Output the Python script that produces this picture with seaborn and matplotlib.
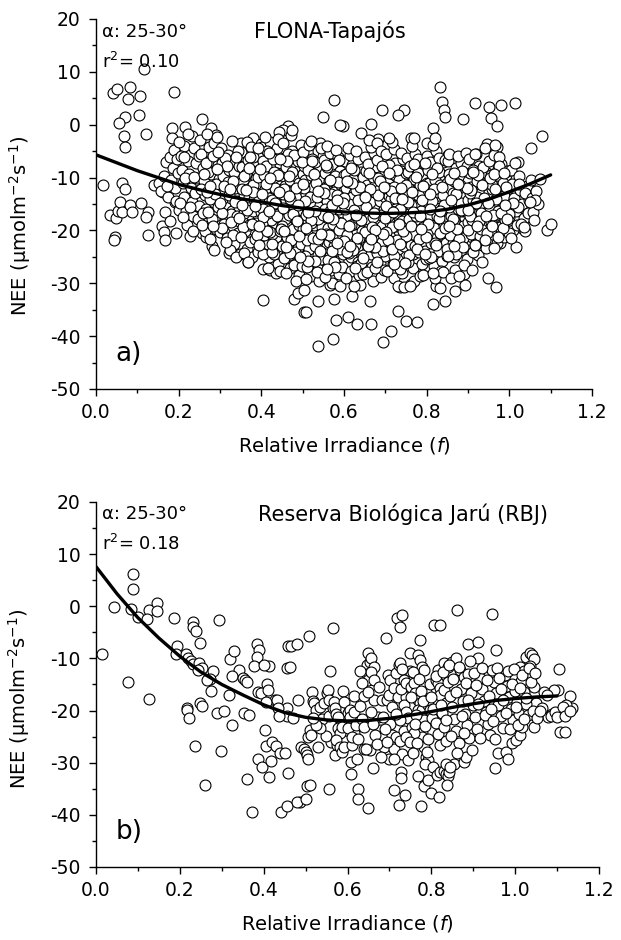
import numpy as np
import pandas as pd
import matplotlib
matplotlib.use("Agg")
import matplotlib.pyplot as plt
import seaborn as sns
from matplotlib.ticker import MultipleLocator

# ──────────────────────────────────────────────
# Data
# ──────────────────────────────────────────────
# Panel a) FLONA-Tapajós : scattered points away from the main cloud
a_edge = [
    (0.04, 6.0), (0.05, 6.7), (0.083, 7.1), (0.077, 4.9), (0.106, 5.5), (0.116, 10.6),
    (0.189, 6.1), (0.07, 1.4), (0.056, 0.4), (0.104, 1.9), (0.068, -2.1), (0.069, -4.2),
    (0.122, -1.7), (0.017, -11.4), (0.062, -11), (0.07, -12.2), (0.035, -17.1), (0.048, -17.7),
    (0.054, -16.4), (0.058, -14.6), (0.063, -16.6), (0.047, -21.2), (0.044, -21.8), (0.083, -15.1),
    (0.087, -16.5), (0.11, -14.8), (0.126, -16.6), (0.122, -17.5), (0.127, -20.8), (0.141, -11.4),
    (0.163, -12.8), (0.159, -19.1), (0.165, -20.3), (0.166, -21.8), (0.167, -16.5), (0.178, -18.2),
    (0.193, -20.5), (0.19, -14.6), (0.228, -21), (0.184, -0.7), (0.185, -2.5), (0.215, -0.4),
    (0.212, -4), (0.232, -2.2), (0.257, 1.1), (0.279, -0.7), (0.29, -1.9),
    (0.257, -20.5), (0.266, -21.3), (0.28, -23), (0.286, -23.7), (0.298, -18), (0.3, -20.2),
    (0.322, -24.3), (0.338, -24.9), (0.363, -24.3), (0.368, -25.9),
    (0.405, -33.1), (0.405, -27.3), (0.479, -32.9), (0.489, -31.9), (0.503, -31.2), (0.503, -35.5),
    (0.508, -35.4), (0.537, -33.4), (0.537, -41.8), (0.574, -40.6), (0.58, -36.9), (0.575, -32.9),
    (0.566, -30.3), (0.61, -36.3), (0.619, -32.4), (0.632, -37.8), (0.663, -33.4), (0.666, -37.8),
    (0.694, -41.2), (0.714, -39.1), (0.731, -35.3), (0.75, -37.2), (0.777, -37.3), (0.736, -30.7),
    (0.761, -30.2), (0.815, -33.9), (0.845, -33.4), (0.822, -30.5), (0.832, -30.9), (0.869, -31.5),
    (0.89, -28.2), (0.892, -30.4), (0.948, -29), (0.968, -30.8), (0.977, -22.4), (1.017, -23.2),
    (1.03, -19.6), (1.09, -19.9), (1.101, -18.8), (1.052, -4.4), (1.078, -2.2), (1.013, 4.1),
    (0.98, 3.8), (0.951, 3.3), (0.956, 1.3), (0.971, -0.3), (0.916, 4.1), (0.889, 1.1),
    (0.832, 7.2), (0.837, 4.2), (0.842, 2.8), (0.845, 1.5), (0.815, -0.7), (0.745, 2.8),
    (0.731, 1.9), (0.691, 2.8), (0.665, 0.1), (0.642, -1.6), (0.598, -0.2), (0.59, 0),
    (0.577, 4.7), (0.548, 1.5), (0.763, -2.6), (0.8, -3.4), (0.682, -2.8), (0.668, -4.1),
    (0.542, -3.5), (0.537, -5), (0.465, -0.2), (0.453, -1), (0.852, -5.7), (0.92, -5.5),
    (0.946, -3.6), (0.97, -4.2), (1.02, -7), (1.046, -15.8), (1.054, -17.2), (1.06, -12.5),
    (1.01, -20),
]

# Panel a) main cloud, 0.15 <= f < 0.50
a_core_left = [
    (0.152, -11), (0.158, -12.5), (0.165, -9.8), (0.17, -7), (0.175, -13.6), (0.178, -6.2),
    (0.182, -10.5), (0.186, -8.2), (0.19, -12), (0.194, -14.4), (0.198, -9.2), (0.188, -4.8),
    (0.196, -6.5), (0.172, -11.6), (0.2, -16.1),
    (0.202, -3.2), (0.205, -5.9), (0.208, -8.5), (0.211, -11.1), (0.214, -13.7), (0.217, -16.3),
    (0.22, -18.9), (0.223, -6.8), (0.226, -9.4), (0.229, -12), (0.232, -14.6), (0.235, -17.2),
    (0.238, -4.5), (0.241, -7.3), (0.244, -10), (0.247, -12.6), (0.25, -15.3), (0.204, -14.8),
    (0.21, -17.5), (0.216, -10.1), (0.222, -1.8), (0.228, -15.5), (0.234, -20.1), (0.24, -12.9),
    (0.246, -17.8), (0.213, -6.1), (0.237, -9.9), (0.249, -6),
    (0.252, -2.9), (0.255, -5.5), (0.258, -8.1), (0.261, -10.7), (0.264, -13.3), (0.267, -15.9),
    (0.27, -18.5), (0.273, -4.2), (0.276, -6.8), (0.279, -9.4), (0.282, -12), (0.285, -14.6),
    (0.288, -17.2), (0.291, -19.8), (0.294, -7.6), (0.297, -10.2), (0.3, -12.8), (0.254, -12.2),
    (0.259, -16.7), (0.263, -20.1), (0.268, -1.8), (0.272, -9), (0.277, -14.1), (0.281, -17.8),
    (0.286, -3.5), (0.29, -11.3), (0.295, -15.5), (0.299, -20.3), (0.256, -18.9), (0.266, -7.2),
    (0.275, -21.6), (0.284, -6), (0.293, -2.4),
    (0.302, -4.5), (0.305, -7.2), (0.308, -9.8), (0.31, -12.4), (0.312, -15.1), (0.315, -17.6),
    (0.318, -20.3), (0.32, -5.8), (0.322, -8.6), (0.325, -11.3), (0.327, -13.9), (0.33, -16.4),
    (0.332, -19.1), (0.335, -22.6), (0.337, -6.9), (0.34, -10.2), (0.342, -12.9), (0.345, -15.6),
    (0.347, -18.2), (0.35, -3.4), (0.304, -14), (0.309, -18.8), (0.316, -21.5), (0.323, -23.8),
    (0.329, -3), (0.334, -9), (0.339, -14.5), (0.344, -20.5), (0.348, -24.5), (0.313, -6.3),
    (0.319, -10.9), (0.326, -16.9), (0.331, -20.8), (0.336, -12), (0.341, -17.3), (0.346, -7.8),
    (0.306, -19.6), (0.321, -13.3), (0.338, -25), (0.349, -11.5),
    (0.352, -5.1), (0.354, -8), (0.356, -10.7), (0.358, -13.2), (0.36, -15.8), (0.362, -18.4),
    (0.364, -21), (0.366, -23.6), (0.368, -6.6), (0.37, -9.3), (0.372, -11.9), (0.374, -14.5),
    (0.376, -17.1), (0.378, -19.7), (0.38, -2.6), (0.382, -4.7), (0.384, -7.4), (0.386, -10),
    (0.388, -12.6), (0.39, -15.2), (0.392, -17.8), (0.394, -20.4), (0.396, -22.8), (0.398, -3.6),
    (0.353, -12.2), (0.357, -16.7), (0.361, -20.1), (0.365, -3.3), (0.369, -13.6), (0.373, -22.2),
    (0.377, -25.1), (0.381, -16.3), (0.385, -21.6), (0.389, -8.8), (0.393, -5.9), (0.397, -11.1),
    (0.359, -24.2), (0.363, -9.4), (0.367, -26), (0.371, -18.9), (0.375, -4.2), (0.379, -11.4),
    (0.383, -14), (0.387, -18.6), (0.391, -24), (0.395, -13.7), (0.399, -16.6), (0.355, -19.4),
    (0.379, -6.2), (0.391, -9.9),
    (0.402, -4.2), (0.404, -6.9), (0.406, -9.5), (0.408, -12.1), (0.41, -14.7), (0.412, -17.3),
    (0.414, -19.9), (0.416, -22.5), (0.418, -25), (0.42, -27.4), (0.422, -3.2), (0.424, -5.6),
    (0.426, -8.2), (0.428, -10.8), (0.43, -13.4), (0.432, -16), (0.434, -18.6), (0.436, -21.2),
    (0.438, -23.8), (0.44, -26.3), (0.442, -1.3), (0.444, -7.5), (0.446, -11.6), (0.448, -15.3),
    (0.45, -19.1), (0.403, -15.9), (0.407, -20.8), (0.411, -7.9), (0.415, -11), (0.419, -13.9),
    (0.423, -18.1), (0.427, -20.6), (0.431, -24.5), (0.435, -28), (0.439, -9.1), (0.443, -13.1),
    (0.447, -17.6), (0.449, -22.9), (0.405, -24.4), (0.409, -2.3), (0.413, -5), (0.417, -16.8),
    (0.421, -20.3), (0.425, -14.2), (0.429, -6.5), (0.433, -11.9), (0.437, -4.4), (0.441, -16.9),
    (0.445, -20.2), (0.401, -18.8), (0.415, -27.2), (0.43, -8.9), (0.445, -27.6), (0.425, -24),
    (0.44, -2.7),
    (0.452, -3.5), (0.454, -6.3), (0.456, -9), (0.458, -11.6), (0.46, -14.2), (0.462, -16.8),
    (0.464, -19.4), (0.466, -22), (0.468, -24.6), (0.47, -27.1), (0.472, -2), (0.474, -4.9),
    (0.476, -7.7), (0.478, -10.3), (0.48, -12.9), (0.482, -15.5), (0.484, -18.1), (0.486, -20.7),
    (0.488, -23.3), (0.49, -25.9), (0.492, -28.4), (0.494, -8.4), (0.496, -12.2), (0.498, -16.2),
    (0.5, -20), (0.453, -13.2), (0.457, -17.8), (0.461, -21.3), (0.465, -5.5), (0.469, -10.5),
    (0.473, -15), (0.477, -19.8), (0.481, -24), (0.485, -29.5), (0.489, -6.8), (0.493, -14.4),
    (0.497, -22.5), (0.455, -25.3), (0.459, -8), (0.463, -12.5), (0.467, -17), (0.471, -21.8),
    (0.475, -1), (0.479, -26.5), (0.483, -9.7), (0.487, -13.8), (0.491, -18.9), (0.495, -3.8),
    (0.499, -26.8), (0.451, -19.2), (0.46, -28), (0.48, -5.7), (0.49, -11), (0.47, -14),
    (0.5, -9.4),
]

# Panel a) main cloud, 0.50 <= f < 0.80
a_core_mid = [
    (0.502, -5.2), (0.504, -7.9), (0.506, -10.5), (0.508, -13.1), (0.51, -15.7), (0.512, -18.3),
    (0.514, -20.9), (0.516, -23.5), (0.518, -26.1), (0.52, -28.7), (0.522, -6.4), (0.524, -9.1),
    (0.526, -11.7), (0.528, -14.3), (0.53, -16.9), (0.532, -19.5), (0.534, -22.1), (0.536, -24.7),
    (0.538, -27.3), (0.54, -29.6), (0.542, -8.3), (0.544, -12.8), (0.546, -16.1), (0.548, -20.2),
    (0.55, -24.2), (0.503, -12), (0.507, -17), (0.511, -21.9), (0.515, -3.9), (0.519, -9.6),
    (0.523, -14.9), (0.527, -19), (0.531, -23), (0.535, -27.8), (0.539, -10.6), (0.543, -15.2),
    (0.547, -19.3), (0.549, -6), (0.505, -24.8), (0.509, -29.1), (0.513, -8.5), (0.517, -13.6),
    (0.521, -18.6), (0.525, -21.5), (0.529, -7), (0.533, -11.1), (0.537, -17.8), (0.541, -21.3),
    (0.545, -25.5), (0.501, -19.7), (0.52, -3), (0.545, -4.5), (0.51, -27), (0.53, -25.8),
    (0.55, -13.6),
    (0.552, -6.6), (0.554, -9.2), (0.556, -11.8), (0.558, -14.4), (0.56, -17), (0.562, -19.6),
    (0.564, -22.2), (0.566, -24.8), (0.568, -27.4), (0.57, -30), (0.572, -7.5), (0.574, -10.1),
    (0.576, -12.7), (0.578, -15.3), (0.58, -17.9), (0.582, -20.5), (0.584, -23.1), (0.586, -25.7),
    (0.588, -28.2), (0.59, -8.8), (0.592, -11.4), (0.594, -14), (0.596, -16.6), (0.598, -19.2),
    (0.6, -21.8), (0.553, -15.9), (0.557, -20.7), (0.561, -25.6), (0.565, -5.3), (0.569, -13.2),
    (0.573, -18.7), (0.577, -22.9), (0.581, -26.6), (0.585, -6.2), (0.589, -16), (0.593, -21),
    (0.597, -24.5), (0.599, -12.5), (0.555, -28.8), (0.559, -4), (0.563, -10.6), (0.567, -16.4),
    (0.571, -21.3), (0.575, -26), (0.579, -9.7), (0.583, -13.3), (0.587, -19.9), (0.591, -23.6),
    (0.595, -27), (0.551, -12.1), (0.58, -4.8), (0.6, -9.6), (0.56, -8), (0.59, -30.5),
    (0.57, -23.9),
    (0.602, -6.8), (0.604, -9.4), (0.606, -12), (0.608, -14.6), (0.61, -17.2), (0.612, -19.8),
    (0.614, -22.4), (0.616, -25), (0.618, -27.6), (0.62, -7.7), (0.622, -10.3), (0.624, -12.9),
    (0.626, -15.5), (0.628, -18.1), (0.63, -20.7), (0.632, -23.3), (0.634, -25.9), (0.636, -28.5),
    (0.638, -30.3), (0.64, -8.9), (0.642, -11.5), (0.644, -14.1), (0.646, -16.7), (0.648, -19.3),
    (0.65, -21.9), (0.603, -16), (0.607, -20.9), (0.611, -24.3), (0.615, -5.7), (0.619, -13.6),
    (0.623, -18.8), (0.627, -22.7), (0.631, -26.8), (0.635, -6.5), (0.639, -16.2), (0.643, -20.1),
    (0.647, -24.6), (0.649, -13), (0.605, -29), (0.609, -10.8), (0.613, -15), (0.617, -19),
    (0.621, -23.8), (0.625, -8.5), (0.629, -12.4), (0.633, -17.6), (0.637, -21.4), (0.641, -26.2),
    (0.645, -9.9), (0.601, -22), (0.625, -30.5), (0.61, -4.5), (0.645, -28.3), (0.63, -5),
    (0.65, -17.5),
    (0.652, -6.2), (0.654, -8.8), (0.656, -11.4), (0.658, -14), (0.66, -16.6), (0.662, -19.2),
    (0.664, -21.8), (0.666, -24.4), (0.668, -27), (0.67, -29.5), (0.672, -5.4), (0.674, -8),
    (0.676, -10.6), (0.678, -13.2), (0.68, -15.8), (0.682, -18.4), (0.684, -21), (0.686, -23.6),
    (0.688, -26.2), (0.69, -28.8), (0.692, -7.2), (0.694, -11.8), (0.696, -16), (0.698, -20.4),
    (0.7, -24.9), (0.653, -12.6), (0.657, -17.8), (0.661, -22.5), (0.665, -4.3), (0.669, -9.9),
    (0.673, -15.1), (0.677, -20), (0.681, -24.2), (0.685, -12.3), (0.689, -17), (0.693, -22.2),
    (0.697, -27.5), (0.699, -9.1), (0.655, -27.8), (0.659, -7.4), (0.663, -14.7), (0.667, -19.6),
    (0.671, -23.1), (0.675, -27.2), (0.679, -6.6), (0.683, -10.1), (0.687, -14.4), (0.691, -19.1),
    (0.695, -23.9), (0.651, -20.3), (0.66, -2.9), (0.68, -3.5), (0.7, -13.7), (0.67, -17.4),
    (0.69, -5),
    (0.702, -5.6), (0.704, -8.2), (0.706, -10.8), (0.708, -13.4), (0.71, -16), (0.712, -18.6),
    (0.714, -21.2), (0.716, -23.8), (0.718, -26.4), (0.72, -29), (0.722, -4.6), (0.724, -7.2),
    (0.726, -9.8), (0.728, -12.4), (0.73, -15), (0.732, -17.6), (0.734, -20.2), (0.736, -22.8),
    (0.738, -25.4), (0.74, -28), (0.742, -6.4), (0.744, -11), (0.746, -15.4), (0.748, -19.8),
    (0.75, -24.3), (0.703, -12), (0.707, -17.2), (0.711, -22), (0.715, -3.2), (0.719, -9.3),
    (0.723, -14.4), (0.727, -19.1), (0.731, -23.5), (0.735, -27.3), (0.739, -8.7), (0.743, -13.6),
    (0.747, -17.9), (0.749, -21.7), (0.705, -27.6), (0.709, -7.6), (0.713, -14.1), (0.717, -19.4),
    (0.721, -24.9), (0.725, -16.8), (0.729, -21.8), (0.733, -10.5), (0.737, -5.3), (0.741, -18.2),
    (0.745, -23), (0.701, -20.3), (0.73, -30.5), (0.745, -30.8), (0.71, -2.5), (0.75, -9.2),
    (0.72, -11.7),
    (0.752, -6.3), (0.754, -8.9), (0.756, -11.5), (0.758, -14.1), (0.76, -16.7), (0.762, -19.3),
    (0.764, -21.9), (0.766, -24.5), (0.768, -27.1), (0.77, -29.6), (0.772, -5.5), (0.774, -8.1),
    (0.776, -10.7), (0.778, -13.3), (0.78, -15.9), (0.782, -18.5), (0.784, -21.1), (0.786, -23.7),
    (0.788, -26.3), (0.79, -7), (0.792, -9.6), (0.794, -12.2), (0.796, -14.8), (0.798, -17.4),
    (0.8, -20), (0.753, -13), (0.757, -17.9), (0.761, -22.7), (0.765, -4.1), (0.769, -10.2),
    (0.773, -15.3), (0.777, -19.9), (0.781, -24.1), (0.785, -28.6), (0.789, -12.9), (0.793, -16.6),
    (0.797, -22.6), (0.799, -25.4), (0.755, -26), (0.759, -7.8), (0.763, -15.1), (0.767, -20.6),
    (0.771, -23), (0.775, -17.2), (0.779, -6.5), (0.783, -11.4), (0.787, -16.3), (0.791, -19.4),
    (0.795, -23.9), (0.751, -21), (0.77, -2.5), (0.79, -28.4), (0.76, -30.5), (0.78, -9.2),
    (0.8, -11),
]

# Panel a) main cloud, f >= 0.80
a_core_right = [
    (0.802, -5.9), (0.804, -8.5), (0.806, -11.1), (0.808, -13.7), (0.81, -16.3), (0.812, -18.9),
    (0.814, -21.5), (0.816, -24.1), (0.818, -26.7), (0.82, -29), (0.822, -5), (0.824, -7.6),
    (0.826, -10.2), (0.828, -12.8), (0.83, -15.4), (0.832, -18), (0.834, -20.6), (0.836, -23.2),
    (0.838, -25.8), (0.84, -7.1), (0.842, -9.7), (0.844, -12.3), (0.846, -14.9), (0.848, -17.5),
    (0.85, -20.1), (0.803, -12.4), (0.807, -17.1), (0.811, -22.3), (0.815, -3.8), (0.819, -10.4),
    (0.823, -15.8), (0.827, -19.8), (0.831, -23.9), (0.835, -27.7), (0.839, -13.3), (0.843, -16.2),
    (0.847, -22.3), (0.849, -24.8), (0.805, -25.3), (0.809, -7), (0.813, -14.5), (0.817, -19.6),
    (0.821, -22.4), (0.825, -17.2), (0.829, -6.3), (0.833, -11.4), (0.837, -16), (0.841, -19.2),
    (0.845, -6.6), (0.801, -20.7), (0.82, -2.5), (0.84, -27.8), (0.83, -9), (0.85, -11),
    (0.815, -28),
    (0.852, -6.8), (0.854, -9.4), (0.856, -12), (0.858, -14.6), (0.86, -17.2), (0.862, -19.8),
    (0.864, -22.4), (0.866, -25), (0.868, -27.5), (0.87, -8.2), (0.872, -10.8), (0.874, -13.4),
    (0.876, -16), (0.878, -18.6), (0.88, -21.2), (0.882, -23.8), (0.884, -7.3), (0.886, -9.9),
    (0.888, -12.5), (0.89, -15.1), (0.892, -17.7), (0.894, -20.3), (0.896, -22.9), (0.898, -25.4),
    (0.9, -10.6), (0.853, -15.6), (0.857, -20.9), (0.861, -24.3), (0.865, -10.7), (0.869, -14.4),
    (0.873, -19), (0.877, -22.2), (0.881, -11.5), (0.885, -16.4), (0.889, -19.2), (0.893, -13.6),
    (0.897, -7.9), (0.899, -18.4), (0.855, -5.5), (0.859, -29), (0.863, -13), (0.867, -18.3),
    (0.871, -24.5), (0.875, -6), (0.879, -28.6), (0.883, -14.8), (0.887, -21.5), (0.891, -26.5),
    (0.895, -5.3), (0.9, -14.2),
    (0.902, -6.5), (0.905, -9.1), (0.908, -11.7), (0.911, -14.3), (0.914, -16.9), (0.917, -19.5),
    (0.92, -22.1), (0.923, -24.6), (0.926, -7.8), (0.929, -10.4), (0.932, -13), (0.935, -15.6),
    (0.938, -18.2), (0.941, -20.8), (0.944, -23.3), (0.947, -9.2), (0.95, -12.8), (0.903, -16.2),
    (0.907, -20.6), (0.912, -24), (0.916, -5.5), (0.921, -13.7), (0.925, -17.6), (0.93, -21),
    (0.934, -26), (0.939, -11.2), (0.943, -15.9), (0.948, -18.8), (0.904, -12.9), (0.909, -18),
    (0.913, -8.6), (0.918, -22.8), (0.922, -10.7), (0.927, -15.2), (0.931, -19.7), (0.936, -8),
    (0.942, -4.5), (0.946, -16.5), (0.949, -21.6), (0.91, -27.5),
    (0.952, -6.9), (0.955, -9.5), (0.958, -12.1), (0.961, -14.7), (0.964, -17.3), (0.967, -19.9),
    (0.97, -22.4), (0.973, -8.3), (0.976, -10.9), (0.979, -13.5), (0.982, -16.1), (0.985, -18.7),
    (0.988, -21.2), (0.991, -9.6), (0.994, -12.2), (0.997, -14.8), (1.0, -17.4), (0.954, -15.9),
    (0.959, -20.6), (0.963, -5.7), (0.968, -11.6), (0.972, -16.4), (0.977, -19.3), (0.981, -7.4),
    (0.986, -13.4), (0.99, -18.1), (0.995, -8.8), (0.999, -20.5), (0.956, -18.5), (0.962, -23.3),
    (0.966, -3.8), (0.975, -6.2), (0.984, -11), (0.993, -15.5), (0.957, -11.4),
    (1.003, -8.6), (1.007, -11.2), (1.011, -13.8), (1.015, -16.4), (1.019, -19), (1.023, -9.8),
    (1.027, -12.4), (1.031, -15), (1.035, -17.6), (1.039, -20.2), (1.043, -11.6), (1.047, -14.2),
    (1.005, -21.5), (1.013, -7.2), (1.021, -15.6), (1.029, -18.8), (1.037, -13), (1.045, -16.8),
    (1.052, -10.5), (1.056, -13.8), (1.058, -16.5), (1.06, -18), (1.065, -12.6), (1.07, -15),
    (1.075, -10.2), (1.062, -14.2),
]

# Panel a) extra points that fill the dense middle of the cloud
a_core_fill = [
    (0.262, -9.3), (0.287, -13.1), (0.271, -16.6), (0.296, -5.2), (0.283, -19.1), (0.309, -11.6),
    (0.318, -7.9), (0.327, -18.4), (0.336, -14.7), (0.344, -4.9), (0.351, -21.3), (0.358, -9.8),
    (0.366, -16.2), (0.373, -6.1), (0.381, -12.8), (0.389, -20.9), (0.397, -8.4), (0.405, -17.5),
    (0.411, -11.2), (0.418, -5.3), (0.426, -22.6), (0.433, -14.9), (0.441, -9.6), (0.448, -19.7),
    (0.455, -12.1), (0.463, -6.8), (0.469, -24.3), (0.476, -16.9), (0.483, -11.9), (0.491, -21.1),
    (0.498, -7.1), (0.506, -14.4), (0.513, -25.7), (0.519, -18.1), (0.527, -9.4), (0.534, -13.7),
    (0.541, -23.9), (0.548, -17.1), (0.556, -7.6), (0.563, -20.8), (0.571, -15.2), (0.578, -26.9),
    (0.586, -10.9), (0.593, -18.6), (0.601, -13.9), (0.608, -24.1), (0.616, -8.2), (0.623, -16.1),
    (0.631, -21.4), (0.638, -11.8), (0.646, -25.3), (0.653, -15.6), (0.661, -9.1), (0.668, -19.4),
    (0.676, -23.2), (0.683, -13.3), (0.691, -7.9), (0.698, -17.7), (0.706, -21.9), (0.713, -12.5),
    (0.721, -26.4), (0.728, -8.6), (0.736, -15.9), (0.743, -20.1), (0.751, -11.4), (0.758, -24.7),
    (0.766, -16.6), (0.773, -9.9), (0.781, -21.6), (0.788, -14.2), (0.796, -7.3), (0.803, -18.8),
    (0.811, -25.1), (0.818, -12.2), (0.826, -8.1), (0.833, -20.4), (0.841, -15.1), (0.848, -23.6),
    (0.856, -10.2), (0.863, -17.9), (0.871, -13.1), (0.878, -21.7), (0.886, -8.7), (0.893, -16.3),
    (0.901, -19.9), (0.908, -12.4), (0.916, -22.8), (0.923, -9.6), (0.931, -16.8), (0.938, -13.9),
    (0.946, -20.5), (0.953, -10.1), (0.961, -17.1), (0.968, -14.1), (0.976, -7.9), (0.984, -19.6),
    (0.991, -11.7), (0.998, -16.9),
    (0.268, -12.7), (0.292, -8.3), (0.305, -16.8), (0.314, -22.1), (0.331, -10.6), (0.339, -6.2),
    (0.353, -15.1), (0.362, -12.3), (0.377, -18.8), (0.385, -15.4), (0.393, -4.5), (0.402, -13.2),
    (0.414, -20.1), (0.422, -10.1), (0.437, -17.2), (0.444, -6.4), (0.452, -15.7), (0.459, -23.1),
    (0.467, -13.4), (0.474, -8.9), (0.487, -18.3), (0.494, -25.1), (0.502, -11.3), (0.509, -19.6),
    (0.523, -6.9), (0.531, -16.3), (0.538, -21.7), (0.552, -12.9), (0.559, -27.3), (0.567, -10.4),
    (0.574, -17.9), (0.582, -22.4), (0.589, -6.7), (0.597, -14.8), (0.612, -19.2), (0.619, -11.1),
    (0.627, -27.1), (0.634, -14.3), (0.642, -18.1), (0.657, -22.9), (0.664, -12.2), (0.672, -16.8),
    (0.679, -25.9), (0.687, -10.6), (0.694, -20.7), (0.702, -15.3), (0.709, -9.2), (0.717, -23.6),
    (0.724, -13.8), (0.732, -18.7), (0.739, -11.9), (0.747, -26.2), (0.754, -14.6), (0.762, -19.1),
    (0.769, -7.4), (0.777, -23.5), (0.784, -17.3), (0.792, -11.6), (0.799, -21.2), (0.807, -15.9),
    (0.814, -9.4), (0.822, -22.8), (0.829, -17.6), (0.837, -11.8), (0.844, -19.5), (0.852, -24.9),
    (0.859, -14.3), (0.867, -9.1), (0.874, -19.8), (0.882, -16.2), (0.889, -23.1), (0.897, -11.9),
    (0.904, -17.2), (0.912, -8.9), (0.919, -14.8), (0.927, -18.3), (0.934, -11.4), (0.942, -21.9),
    (0.949, -14.9), (0.957, -19.1), (0.964, -9.4), (0.972, -21.3), (0.979, -16.7), (0.987, -9.1),
    (0.994, -17.8), (1.008, -14.9), (1.024, -11.3), (1.036, -19.4), (1.05, -14.7),
    (0.277, -11.6), (0.301, -14.9), (0.323, -12.1), (0.347, -17.6), (0.371, -8.2), (0.395, -19.1),
    (0.419, -16.4), (0.443, -12.8), (0.466, -9.8), (0.489, -15.1), (0.512, -16.6), (0.536, -12.5),
    (0.561, -17.4), (0.584, -14.2), (0.607, -10.7), (0.629, -17.1), (0.652, -13.7), (0.674, -19.9),
    (0.697, -11.8), (0.719, -16.6), (0.741, -14.1), (0.764, -12.8), (0.787, -19.7), (0.809, -13.1),
    (0.832, -16.4), (0.854, -19.1), (0.877, -11.2), (0.899, -16.1), (0.921, -19.1), (0.944, -17.2),
    (0.966, -12.2), (0.989, -15.2), (0.545, -20.7), (0.615, -22.9), (0.665, -21.6), (0.735, -22.6),
    (0.795, -24.4), (0.865, -22.9), (0.455, -20.2), (0.395, -22.7),
]

# Panel b) Reserva Biológica Jarú : f < 0.50
b_left = [
    (0.014, -9.2), (0.044, -0.05), (0.076, -14.5), (0.088, 6.2), (0.089, 3.3), (0.084, -0.55),
    (0.099, -2.0), (0.126, -0.7), (0.145, 0.7), (0.145, -0.95), (0.122, -2.5), (0.127, -17.8),
    (0.185, -2.2), (0.194, -7.6), (0.19, -9.1), (0.215, -9.1), (0.22, -9.85), (0.226, -10.5),
    (0.232, -11.1), (0.245, -10.8), (0.253, -11.9), (0.244, -12.2), (0.231, -3.05), (0.231, -3.9),
    (0.239, -4.7), (0.247, -7.0), (0.294, -2.6), (0.278, -12.4), (0.273, -13.9), (0.264, -14.2),
    (0.275, -16.2), (0.32, -10.1), (0.329, -8.5), (0.317, -17.0), (0.342, -12.3), (0.325, -13.4),
    (0.35, -13.7), (0.355, -14.1), (0.36, -14.6), (0.247, -18.5), (0.252, -19.1), (0.216, -19.6),
    (0.218, -19.9), (0.223, -21.4), (0.289, -20.5), (0.306, -20.0), (0.325, -22.7), (0.352, -20.5),
    (0.365, -20.9), (0.236, -26.8), (0.298, -27.8), (0.261, -34.2), (0.36, -33.2), (0.373, -39.4),
    (0.383, -7.3), (0.389, -8.4), (0.385, -9.65), (0.377, -11.4), (0.412, -11.4), (0.457, -7.7),
    (0.456, -11.9), (0.409, -14.9), (0.386, -16.4), (0.394, -16.7), (0.41, -16.05), (0.426, -18.0),
    (0.404, -23.7), (0.405, -26.8), (0.42, -26.1), (0.43, -26.8), (0.386, -29.3), (0.395, -30.8),
    (0.417, -29.75), (0.413, -32.8), (0.44, -28.2), (0.45, -28.2), (0.459, -31.95), (0.442, -39.4),
    (0.455, -38.3), (0.456, -19.6), (0.456, -21.1), (0.406, -18.3), (0.431, -18.0), (0.434, -19.6),
    (0.436, -21.1), (0.466, -7.7), (0.479, -7.3), (0.482, -18.0), (0.47, -21.5), (0.487, -37.5),
    (0.489, -27.0), (0.496, -27.3), (0.479, -37.5), (0.401, -11.3), (0.463, -11.6),
]

# Panel b) 0.50 <= f < 0.80
b_mid = [
    (0.501, -27.9), (0.504, -28.6), (0.506, -29.2), (0.506, -25.0), (0.511, -23.8), (0.514, -24.7),
    (0.508, -5.8), (0.516, -16.4), (0.517, -18.1), (0.52, -18.6), (0.525, -19.9), (0.535, -19.3),
    (0.504, -34.5), (0.501, -37.0), (0.511, -34.3), (0.53, -26.9), (0.54, -21.6), (0.545, -18.5),
    (0.55, -16.7), (0.555, -21.0), (0.56, -26.1), (0.565, -19.5), (0.57, -28.5), (0.575, -26.6),
    (0.58, -19.7), (0.585, -22.6), (0.59, -16.2), (0.595, -25.8), (0.6, -20.4), (0.548, -24.8),
    (0.535, -23.4), (0.525, -22.7), (0.518, -21.4), (0.558, -12.4), (0.565, -4.2), (0.557, -35.1),
    (0.554, -16.1), (0.556, -18.0), (0.568, -18.3), (0.571, -19.6), (0.573, -20.6), (0.578, -21.2),
    (0.578, -23.4), (0.582, -24.4), (0.587, -23.1), (0.573, -25.7), (0.582, -27.0), (0.587, -27.9),
    (0.592, -27.0), (0.592, -18.3), (0.606, -19.9), (0.616, -17.3), (0.616, -24.4), (0.611, -26.6),
    (0.608, -29.8), (0.609, -32.2), (0.623, -29.2), (0.601, -23.4), (0.626, -35.1), (0.626, -37.05),
    (0.64, -27.3), (0.649, -9.0), (0.647, -11.3), (0.647, -12.9), (0.649, -14.1), (0.654, -10.6),
    (0.657, -10.0), (0.663, -11.6), (0.657, -12.7), (0.663, -14.1), (0.663, -18.0), (0.65, -38.6),
    (0.654, -27.6), (0.66, -31.1), (0.673, -21.2), (0.678, -23.8), (0.687, -27.0), (0.683, -25.0),
    (0.683, -18.0), (0.692, -6.1), (0.697, -13.2), (0.702, -14.1), (0.695, -18.0), (0.702, -22.5),
    (0.706, -24.7), (0.716, -25.0), (0.711, -27.3), (0.699, -29.2), (0.63, -12.5), (0.635, -14.8),
    (0.64, -17.3), (0.605, -21.2), (0.61, -25.1), (0.615, -20.3), (0.62, -22.7), (0.625, -25.4),
    (0.63, -19.2), (0.635, -21.7), (0.64, -23.2), (0.645, -27.4), (0.65, -16.4), (0.655, -20.2),
    (0.66, -22.5), (0.665, -24.6), (0.67, -26.5), (0.675, -15.5), (0.68, -29.0), (0.685, -21.2),
    (0.69, -23.5), (0.695, -26.0), (0.7, -17.1), (0.705, -19.3), (0.71, -15.6), (0.715, -12.8),
    (0.72, -17.5), (0.725, -25.8), (0.73, -28.3), (0.735, -23.9), (0.74, -17.4), (0.745, -29.5),
    (0.748, -12.4), (0.722, -11.3), (0.728, -15.9), (0.712, -29.3),
    (0.719, -2.3), (0.73, -1.7), (0.726, -3.9), (0.711, -35.3), (0.722, -38.1), (0.727, -31.7),
    (0.727, -33.0), (0.736, -36.2), (0.726, -10.9), (0.73, -12.0), (0.735, -14.1), (0.74, -14.8),
    (0.749, -9.0), (0.752, -15.4), (0.768, -9.3), (0.759, -14.8), (0.762, -16.7), (0.768, -18.0),
    (0.773, -18.6), (0.768, -19.9), (0.778, -19.9), (0.783, -21.8), (0.778, -24.4), (0.778, -25.0),
    (0.783, -27.0), (0.773, -6.5), (0.773, -10.3), (0.778, -11.6), (0.783, -12.2), (0.788, -16.4),
    (0.792, -18.0), (0.792, -19.0), (0.797, -19.9), (0.769, -32.6), (0.776, -38.3), (0.788, -28.9),
    (0.792, -29.5), (0.783, -34.5), (0.793, -33.3), (0.799, -35.8), (0.735, -19.0), (0.74, -20.2),
    (0.745, -21.5), (0.754, -23.1), (0.759, -24.4), (0.764, -20.9), (0.726, -21.8), (0.716, -20.6),
    (0.74, -25.0), (0.749, -26.0), (0.751, -17.4), (0.756, -12.6), (0.761, -22.6), (0.766, -26.3),
    (0.771, -13.9), (0.776, -16.2), (0.781, -18.2), (0.786, -22.9), (0.791, -25.4), (0.796, -14.9),
    (0.756, -28.2), (0.79, -28.0), (0.785, -30.2),
]

# Panel b) f >= 0.80
b_right = [
    (0.802, -21.5), (0.805, -30.8), (0.807, -3.6), (0.821, -3.6), (0.862, -0.7), (0.819, -36.6),
    (0.813, -32.4), (0.821, -31.7), (0.829, -31.6), (0.855, -30.3), (0.877, -29.8), (0.882, -29.0),
    (0.816, -12.2), (0.811, -14.1), (0.816, -14.8), (0.821, -15.7), (0.821, -17.0), (0.831, -16.1),
    (0.835, -18.6), (0.835, -30.2), (0.835, -32.1), (0.84, -32.6), (0.842, -31.8), (0.845, -30.9),
    (0.838, -34.3), (0.831, -10.9), (0.84, -11.6), (0.85, -10.6), (0.859, -10.0), (0.869, -12.2),
    (0.878, -13.5), (0.888, -12.9), (0.888, -7.2), (0.912, -6.8), (0.912, -10.0), (0.945, -1.5),
    (0.955, -8.4), (0.952, -31.1), (0.96, -28.1), (0.979, -27.9), (0.983, -29.2), (0.993, -26.3),
    (1.002, -25.7), (1.026, -9.7), (1.036, -8.9), (1.041, -9.3), (1.045, -10.2), (1.012, -11.6),
    (1.021, -12.5), (1.031, -13.5), (1.105, -12.0), (1.107, -24.1), (1.12, -24.1), (1.131, -17.3),
    (1.136, -19.6), (1.122, -19.0), (1.103, -16.1), (1.093, -16.1), (1.045, -23.1), (1.012, -24.7),
    (1.017, -23.1), (1.05, -18.6), (1.064, -19.6), (1.079, -21.2), (1.088, -20.6), (1.069, -16.4),
    (0.8, -17.5), (0.805, -19.8), (0.81, -22.3), (0.815, -24.5), (0.82, -26.7), (0.825, -20.5),
    (0.83, -23.2), (0.835, -25.8), (0.84, -14.6), (0.845, -17.2), (0.85, -19.4), (0.855, -21.6),
    (0.86, -23.9), (0.865, -26.2), (0.87, -15.8), (0.875, -18.2), (0.88, -20.7), (0.885, -22.8),
    (0.89, -25.3), (0.895, -16.6), (0.9, -19.0), (0.905, -21.3), (0.91, -23.6), (0.915, -13.8),
    (0.92, -15.9), (0.925, -18.1), (0.93, -20.3), (0.935, -22.5), (0.94, -24.7), (0.945, -12.3),
    (0.95, -14.5), (0.955, -16.7), (0.96, -18.9), (0.965, -21.1), (0.97, -23.3), (0.975, -13.1),
    (0.98, -15.3), (0.985, -17.5), (0.99, -19.7), (0.995, -21.9), (1.0, -16.2), (1.005, -18.4),
    (1.01, -20.6), (1.015, -14.3), (1.02, -16.5), (1.025, -18.7), (1.03, -20.9), (1.035, -11.5),
    (1.04, -13.2), (1.045, -15.4),
    (0.812, -13.3), (0.822, -18.9), (0.828, -12.6), (0.836, -21.9), (0.843, -11.2), (0.848, -24.8),
    (0.852, -13.9), (0.858, -16.4), (0.862, -28.2), (0.867, -11.7), (0.872, -21.1), (0.877, -24.3),
    (0.882, -14.7), (0.887, -17.9), (0.892, -10.5), (0.897, -27.6), (0.902, -12.8), (0.907, -15.1),
    (0.912, -18.7), (0.917, -25.2), (0.922, -11.9), (0.927, -20.9), (0.932, -14.2), (0.937, -17.3),
    (0.942, -19.8), (0.947, -22.1), (0.952, -25.5), (0.957, -11.8), (0.962, -13.7), (0.967, -15.8),
    (0.972, -17.9), (0.977, -20.4), (0.982, -12.4), (0.987, -23.5), (0.992, -14.9), (0.997, -12.0),
    (1.002, -19.3), (1.007, -22.7), (1.012, -15.7), (1.017, -13.1), (1.022, -21.7), (1.027, -17.6),
    (1.032, -11.8), (1.037, -14.6), (1.042, -20.0), (1.047, -12.8), (1.052, -21.5), (1.06, -20.0),
    (1.075, -17.1), (1.085, -21.0), (1.095, -20.2), (1.1, -21.3), (1.115, -19.3), (1.12, -21.0),
    (1.13, -20.0),
]

# Fitted curves
fit_x = [0.0, 0.05, 0.1, 0.15, 0.2, 0.25, 0.3, 0.35, 0.4, 0.45, 0.5, 0.55,
         0.6, 0.65, 0.7, 0.75, 0.8, 0.85, 0.9, 0.95, 1.0, 1.05, 1.1]
fit_a = [-5.7, -7.2, -8.7, -10.0, -11.3, -12.3, -13.2, -14.0, -14.6, -15.3, -15.8, -16.2,
         -16.5, -16.7, -16.8, -16.7, -16.5, -16.0, -15.2, -14.1, -12.7, -11.2, -9.5]
fit_b = [7.6, 2.4, -2.2, -6.1, -9.6, -12.6, -15.0, -17.0, -18.9, -20.4, -21.3, -21.8,
         -22.0, -21.9, -21.5, -20.9, -20.2, -19.4, -18.7, -18.1, -17.7, -17.4, -17.2]

panels = [
    dict(points=a_edge + a_core_left + a_core_mid + a_core_right + a_core_fill, fit=fit_a,
         site="FLONA-Tapajós", site_x=0.567, r2="0.10", tag="a)",
         rect=[0.1546, 0.5862, 0.7987, 0.3936], ylab_y=0.44),
    dict(points=b_left + b_mid + b_right, fit=fit_b,
         site="Reserva Biológica Jarú (RBJ)", site_x=0.733, r2="0.18", tag="b)",
         rect=[0.1546, 0.0777, 0.8100, 0.3883], ylab_y=0.46),
]

# ──────────────────────────────────────────────
# Plot
# ──────────────────────────────────────────────
sns.set_style("ticks")
plt.rcParams["font.family"] = ["DejaVu Sans"]
plt.rcParams["mathtext.fontset"] = "dejavusans"
plt.rcParams["axes.unicode_minus"] = False
plt.rcParams["text.color"] = "black"
plt.rcParams["axes.labelcolor"] = "black"
plt.rcParams["xtick.color"] = "black"
plt.rcParams["ytick.color"] = "black"

fig = plt.figure(figsize=(6.21, 9.40), dpi=100)

for p in panels:
    ax = fig.add_axes(p["rect"])
    df = pd.DataFrame(p["points"], columns=["f", "nee"])
    sns.scatterplot(data=df, x="f", y="nee", ax=ax, s=62, marker="o",
                    color="white", edgecolor="black", linewidth=0.8, zorder=2)
    sns.lineplot(x=fit_x, y=p["fit"], ax=ax, color="black", lw=2.4,
                 sort=False, estimator=None, zorder=3)

    ax.set_xlim(0, 1.2)
    ax.set_ylim(-50, 20)
    ax.xaxis.set_major_locator(MultipleLocator(0.2))
    ax.xaxis.set_minor_locator(MultipleLocator(0.1))
    ax.yaxis.set_major_locator(MultipleLocator(10))
    ax.yaxis.set_minor_locator(MultipleLocator(5))
    ax.xaxis.set_major_formatter(plt.FormatStrFormatter("%.1f"))
    ax.tick_params(which="major", direction="out", length=5, width=1,
                   labelsize=13.5, color="black", labelcolor="black")
    ax.tick_params(axis="y", which="major", pad=6)
    ax.tick_params(axis="x", which="major", pad=5)
    ax.tick_params(which="minor", direction="out", length=3, width=1, color="black")
    sns.despine(ax=ax)
    for s in ("left", "bottom"):
        ax.spines[s].set_linewidth(1)
        ax.spines[s].set_color("black")

    ax.set_xlabel("Relative Irradiance ($\\it{f}$)", fontsize=14)
    ax.set_ylabel("NEE (µmolm$^{-2}$s$^{-1}$)", fontsize=14)
    ax.xaxis.set_label_coords(0.5, -0.125)
    ax.yaxis.set_label_coords(-0.128, p["ylab_y"])

    ax.text(0.015, 17.6, "α: 25-30°", fontsize=13, va="center", ha="left")
    ax.text(0.015, 11.9, "r$^2$= " + p["r2"], fontsize=13, va="center", ha="left")
    ax.text(p["site_x"], 17.6, p["site"], fontsize=15, va="center", ha="center")
    ax.text(0.078, -43.3, p["tag"], fontsize=19, va="center", ha="center")

fig.savefig("out.png", dpi=100)
